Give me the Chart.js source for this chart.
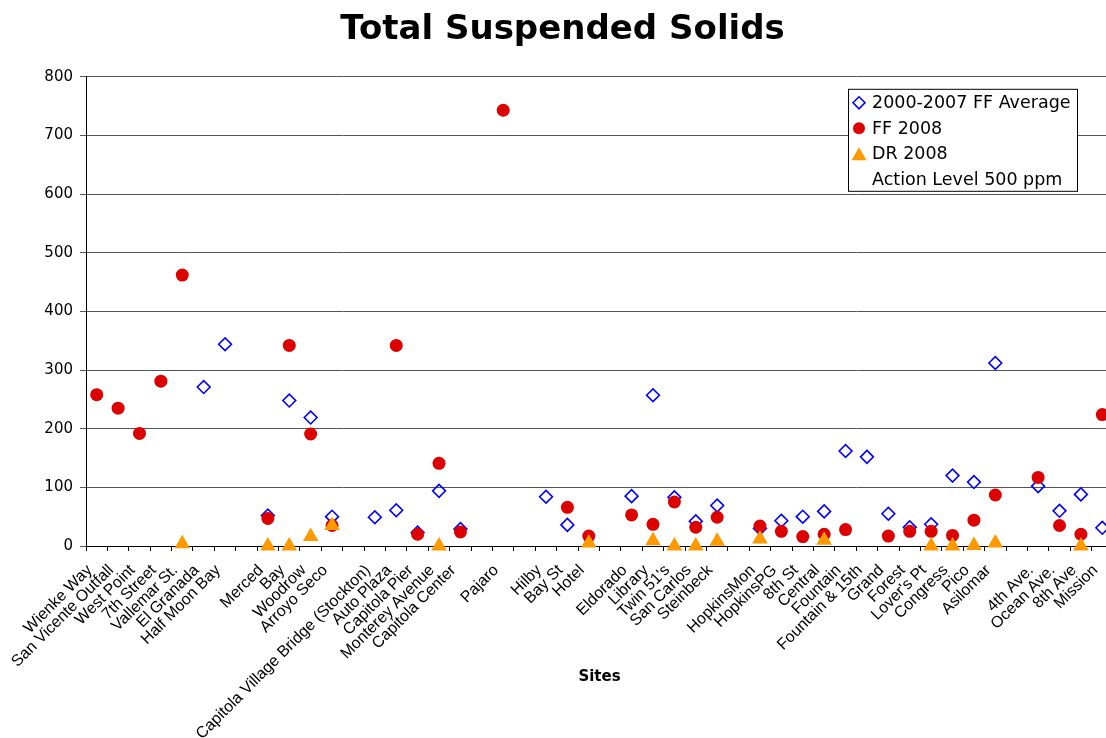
<!DOCTYPE html>
<html>
<head>
<meta charset="utf-8">
<script src="https://cdn.jsdelivr.net/npm/chart.js@4.4.0/dist/chart.umd.min.js"></script>
<style>
  html, body { margin: 0; padding: 0; background: #fff; overflow: hidden; }
  #wrap { width: 1119px; height: 738px; }
</style>
</head>
<body>
<div id="wrap"><canvas id="tssChart" width="1119" height="738"></canvas></div>
<script>
  // sites along the x axis ('' = empty slot between groups)
  const sites = ['Wienke Way', 'San Vicente Outfall', 'West Point', '7th Street', 'Vallemar St.', 'El Granada', 'Half Moon Bay', '',
    'Merced', 'Bay', 'Woodrow', 'Arroyo Seco', '', 'Capitola Village Bridge (Stockton)', 'Auto Plaza', 'Capitola Pier', 'Monterey Avenue', 'Capitola Center', '',
    'Pajaro', '', 'Hilby', 'Bay St', 'Hotel', '', 'Eldorado', 'Library', "Twin 51's", 'San Carlos', 'Steinbeck', '',
    'HopkinsMon', 'HopkinsPG', '8th St', 'Central', 'Fountain', 'Fountain & 15th', 'Grand', 'Forest', "Lover's Pt", 'Congress', 'Pico', 'Asilomar', '',
    '4th Ave.', 'Ocean Ave.', '8th Ave', 'Mission'];

  const ffAverage = [null, null, null, null, null, 271, 344, null,
    52, 248, 219, 50, null, 49, 61, 23, 94, 29, null,
    null, null, 84, 36, null, null, 85, 257, 83, 42, 69, null,
    30, 43, 50, 59, 162, 152, 55, 32, 37, 120, 109, 312, null,
    102, 60, 88, 31];

  const ff2008 = [258, 235, 192, 281, 462, null, null, null,
    47, 342, 191, 35, null, null, 342, 20, 141, 24, null,
    743, null, null, 66, 17, null, 53, 37, 75, 32, 49, null,
    34, 25, 16, 20, 28, null, 17, 25, 25, 18, 44, 87, null,
    117, 35, 20, 224];

  const dr2008 = [null, null, null, null, 4, null, null, null,
    0, 0, 16, 35, null, null, null, null, 0, null, null,
    null, null, null, null, 5, null, null, 9, 0, 0, 8, null,
    12, null, null, 10, null, null, null, null, 0, 0, 1, 5, null,
    null, null, 0, null];

  const yTicks = [0, 100, 200, 300, 400, 500, 600, 700, 800];

  // legend drawn as a box inside the plot, like the original
  const boxLegend = {
    id: 'boxLegend',
    afterDraw(chart) {
      const ctx = chart.ctx;
      const a = chart.chartArea;
      const x = a.right - 265, y = a.top + 12, w = 229, h = 102;
      ctx.save();
      ctx.fillStyle = '#fff';
      ctx.fillRect(x, y, w, h);
      ctx.strokeStyle = '#000';
      ctx.lineWidth = 1;
      ctx.strokeRect(x + 0.5, y + 0.5, w, h);
      ctx.font = '17.5px "DejaVu Sans"';
      ctx.textBaseline = 'middle';
      chart.data.datasets.forEach((ds, i) => {
        const cy = y + 14 + i * 25.5;
        const cx = x + 11;
        ctx.beginPath();
        if (ds.pointStyle === 'rectRot') {
          ctx.moveTo(cx - 6, cy); ctx.lineTo(cx, cy - 6); ctx.lineTo(cx + 6, cy); ctx.lineTo(cx, cy + 6); ctx.closePath();
          ctx.strokeStyle = ds.borderColor; ctx.lineWidth = 1.6; ctx.stroke();
        } else if (ds.pointStyle === 'circle') {
          ctx.arc(cx, cy, 6, 0, Math.PI * 2);
          ctx.fillStyle = ds.backgroundColor; ctx.fill();
        } else if (ds.pointStyle === 'triangle') {
          ctx.moveTo(cx - 7.5, cy + 6.5); ctx.lineTo(cx, cy - 6.5); ctx.lineTo(cx + 7.5, cy + 6.5); ctx.closePath();
          ctx.fillStyle = ds.backgroundColor; ctx.fill();
        }
        ctx.fillStyle = '#000';
        ctx.fillText(ds.label, x + 24, cy + 1);
      });
      // x axis title sits higher than the long labels, as in the original
      ctx.font = 'bold 15px "DejaVu Sans"';
      ctx.textAlign = 'center';
      ctx.fillText('Sites', (a.left + a.right) / 2, 677);
      ctx.restore();
    }
  };

  const ctx = document.getElementById('tssChart').getContext('2d');
  new Chart(ctx, {
    type: 'line',
    data: {
      labels: sites,
      datasets: [{
        label: '2000-2007 FF Average',
        data: ffAverage,
        showLine: false,
        clip: false,
        pointStyle: 'rectRot',
        pointRadius: 6.4,
        pointBorderWidth: 1.6,
        borderColor: '#0000ff',
        backgroundColor: 'rgba(0,0,0,0)',
        order: 3
      }, {
        label: 'FF 2008',
        data: ff2008,
        showLine: false,
        clip: false,
        pointStyle: 'circle',
        pointRadius: 6.5,
        pointBorderWidth: 0,
        borderColor: '#dd0000',
        backgroundColor: '#dd0000',
        order: 2
      }, {
        label: 'DR 2008',
        data: dr2008,
        showLine: false,
        clip: false,
        pointStyle: 'triangle',
        pointRadius: 9,
        pointBorderWidth: 0,
        borderColor: '#ff9900',
        backgroundColor: '#ff9900',
        order: 1
      }, {
        label: 'Action Level 500 ppm',
        data: [],
        showLine: false,
        pointStyle: false,
        borderColor: 'rgba(0,0,0,0)',
        backgroundColor: 'rgba(0,0,0,0)',
        order: 4
      }]
    },
    options: {
      responsive: false,
      animation: false,
      events: [],
      layout: { padding: { left: 12, right: 6, top: 0, bottom: 0 }, autoPadding: false },
      plugins: {
        legend: { display: false },
        tooltip: { enabled: false },
        title: {
          display: true,
          text: 'Total Suspended Solids',
          color: '#000',
          font: { family: 'DejaVu Sans', size: 34, weight: 'bold' },
          padding: { top: 10, bottom: 26 }
        }
      },
      scales: {
        x: {
          type: 'category',
          offset: true,
          afterFit: s => { s.height = 192; s.paddingRight = 0; },
          grid: { offset: true, drawOnChartArea: false, drawTicks: true, tickLength: 5, color: '#000' },
          border: { display: true, color: '#000', width: 1 },
          ticks: {
            autoSkip: false, maxRotation: 45, minRotation: 45, padding: 10, labelOffset: -7,
            color: '#000', font: { family: 'Liberation Sans', size: 16 }
          }
        },
        y: {
          min: yTicks[0],
          max: yTicks[yTicks.length - 1],
          afterFit: s => { s.width = 74; },
          afterBuildTicks: s => { s.ticks = yTicks.map(v => ({ value: v })); },
          grid: { color: '#555', tickLength: 6 },
          border: { display: true, color: '#000', width: 1 },
          ticks: { padding: 7, color: '#000', font: { family: 'DejaVu Sans', size: 15 } }
        }
      }
    },
    plugins: [boxLegend]
  });
</script>
</body>
</html>
